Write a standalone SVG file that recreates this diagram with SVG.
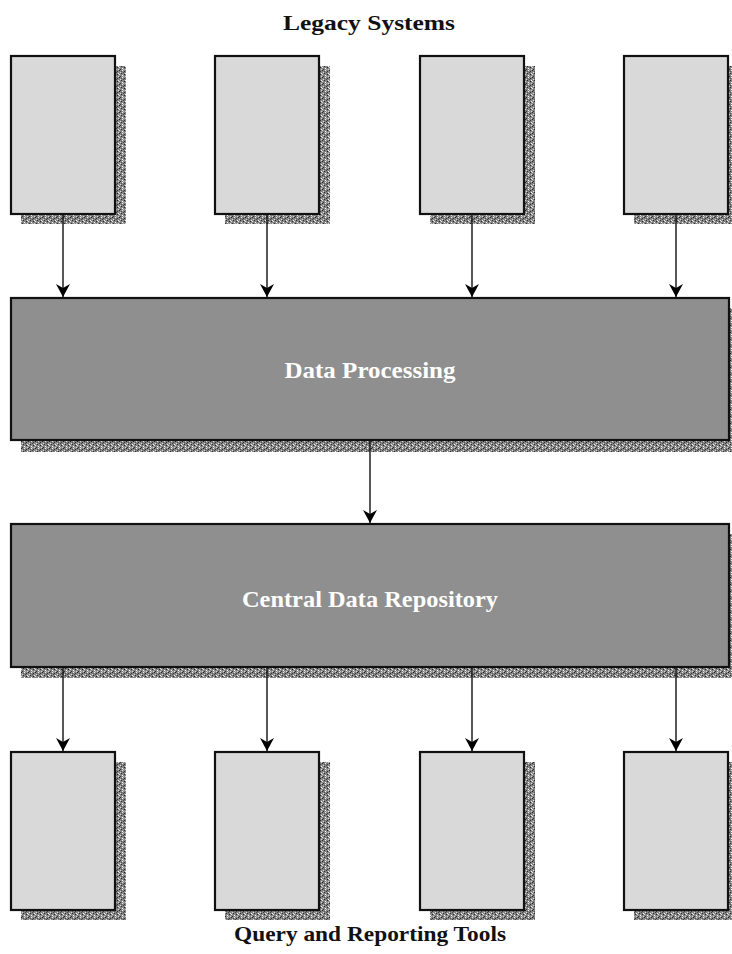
<svg xmlns="http://www.w3.org/2000/svg" width="732" height="954" viewBox="0 0 732 954">
  <defs>
    <!-- stippled drop-shadow texture -->
    <pattern id="grain" width="7" height="7" patternUnits="userSpaceOnUse">
      <rect width="7" height="7" fill="#858585"/>
      <rect x="0" y="0" width="1" height="1" fill="#222"/>
      <rect x="3" y="0" width="1" height="1" fill="#eee"/>
      <rect x="5" y="1" width="1" height="1" fill="#333"/>
      <rect x="1" y="2" width="1" height="1" fill="#ddd"/>
      <rect x="4" y="2" width="1" height="1" fill="#444"/>
      <rect x="6" y="3" width="1" height="1" fill="#f4f4f4"/>
      <rect x="2" y="3" width="1" height="1" fill="#2a2a2a"/>
      <rect x="0" y="4" width="1" height="1" fill="#e6e6e6"/>
      <rect x="5" y="4" width="1" height="1" fill="#222"/>
      <rect x="3" y="5" width="1" height="1" fill="#fff"/>
      <rect x="1" y="6" width="1" height="1" fill="#333"/>
      <rect x="6" y="6" width="1" height="1" fill="#d8d8d8"/>
      <rect x="4" y="6" width="1" height="1" fill="#bbb"/>
      <rect x="2" y="1" width="1" height="1" fill="#555"/>
    </pattern>
    <marker id="arrow" markerUnits="userSpaceOnUse" markerWidth="14" markerHeight="14" refX="13" refY="7" orient="auto">
      <path d="M0,0 L13,7 L0,14 L4,7 Z" fill="#000"/>
    </marker>
  </defs>
  <style>
    .shadow { fill: url(#grain); }
    .small { fill: #d9d9d9; stroke: #111; stroke-width: 2.2; }
    .big { fill: #8f8f8f; stroke: #111; stroke-width: 2.2; }
    .conn { stroke: #111; stroke-width: 1.4; fill: none; marker-end: url(#arrow); }
    .title { font-family: "Liberation Serif", "DejaVu Serif", serif; font-weight: bold; font-size: 21px; fill: #111; text-anchor: middle; }
    .label { font-family: "Liberation Serif", "DejaVu Serif", serif; font-weight: bold; font-size: 24px; fill: #fff; text-anchor: middle; }
  </style>

  <rect width="732" height="954" fill="#fff"/>

  <text class="title" x="369" y="30" textLength="172" lengthAdjust="spacingAndGlyphs">Legacy Systems</text>

  <g id="legacy-1"><rect class="shadow" x="21" y="66" width="105" height="158"/><rect class="small" x="11" y="56" width="104" height="158"/></g>
  <g id="legacy-2"><rect class="shadow" x="225" y="66" width="105" height="158"/><rect class="small" x="215" y="56" width="104" height="158"/></g>
  <g id="legacy-3"><rect class="shadow" x="430" y="66" width="105" height="158"/><rect class="small" x="420" y="56" width="104" height="158"/></g>
  <g id="legacy-4"><rect class="shadow" x="634" y="66" width="105" height="158"/><rect class="small" x="624" y="56" width="104" height="158"/></g>

  <g id="data-processing">
    <rect class="shadow" x="21" y="308" width="720" height="144"/>
    <rect class="big" x="11" y="298" width="718" height="142"/>
    <text class="label" x="370" y="378" textLength="171" lengthAdjust="spacingAndGlyphs">Data Processing</text>
  </g>

  <g id="central-repository">
    <rect class="shadow" x="21" y="534" width="720" height="144"/>
    <rect class="big" x="11" y="524" width="718" height="143"/>
    <text class="label" x="370" y="607" textLength="256" lengthAdjust="spacingAndGlyphs">Central Data Repository</text>
  </g>

  <g id="tool-1"><rect class="shadow" x="21" y="762" width="105" height="158"/><rect class="small" x="11" y="752" width="104" height="158"/></g>
  <g id="tool-2"><rect class="shadow" x="225" y="762" width="105" height="158"/><rect class="small" x="215" y="752" width="104" height="158"/></g>
  <g id="tool-3"><rect class="shadow" x="430" y="762" width="105" height="158"/><rect class="small" x="420" y="752" width="104" height="158"/></g>
  <g id="tool-4"><rect class="shadow" x="634" y="762" width="105" height="158"/><rect class="small" x="624" y="752" width="104" height="158"/></g>

  <text class="title" x="370" y="941" textLength="272" lengthAdjust="spacingAndGlyphs">Query and Reporting Tools</text>

  <g id="connectors">
    <line class="conn" x1="63" y1="215" x2="63" y2="297"/>
    <line class="conn" x1="267" y1="215" x2="267" y2="297"/>
    <line class="conn" x1="472" y1="215" x2="472" y2="297"/>
    <line class="conn" x1="676" y1="215" x2="676" y2="297"/>
    <line class="conn" x1="370" y1="441" x2="370" y2="523"/>
    <line class="conn" x1="63" y1="668" x2="63" y2="751"/>
    <line class="conn" x1="267" y1="668" x2="267" y2="751"/>
    <line class="conn" x1="472" y1="668" x2="472" y2="751"/>
    <line class="conn" x1="676" y1="668" x2="676" y2="751"/>
  </g>
</svg>
